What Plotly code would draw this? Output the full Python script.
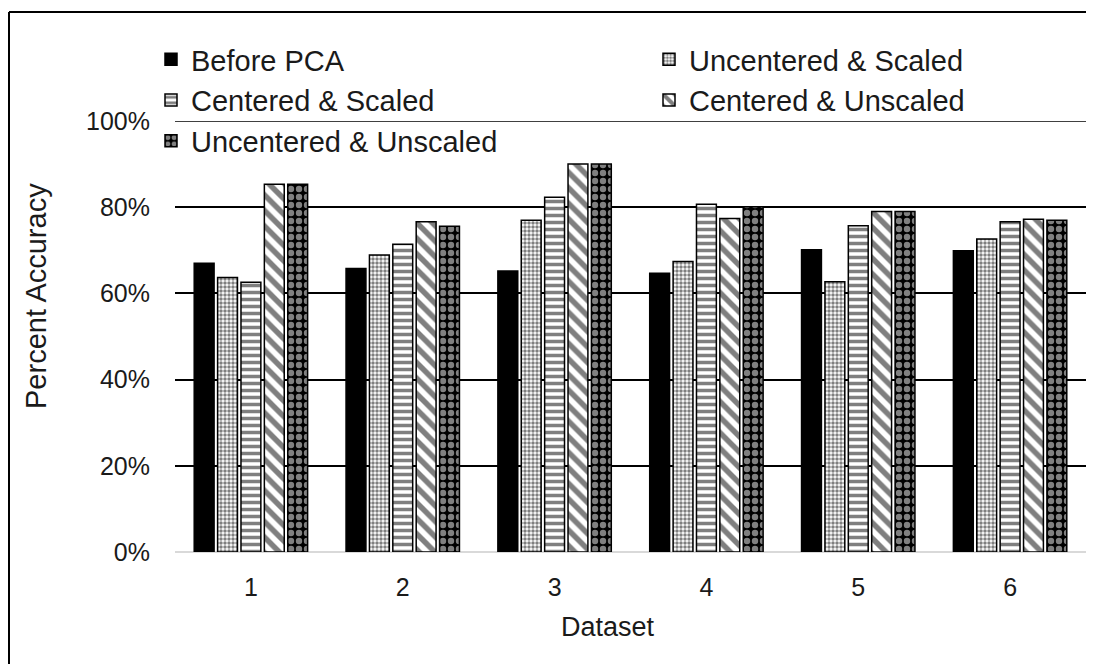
import plotly.graph_objects as go

datasets = ["1", "2", "3", "4", "5", "6"]

before_pca = [67.0, 65.8, 65.2, 64.7, 70.1, 69.9]
uncentered_scaled = [63.7, 68.9, 77.0, 67.4, 62.7, 72.6]
centered_scaled = [62.6, 71.4, 82.3, 80.7, 75.7, 76.6]
centered_unscaled = [85.3, 76.6, 90.0, 77.4, 79.0, 77.2]
uncentered_unscaled = [85.3, 75.6, 90.0, 80.1, 79.0, 77.0]

W, H = 1098, 666
FONT = "Liberation Sans, Arial, sans-serif"
TXT = "#1a1a1a"

series = [
    ("Before PCA", before_pca, dict(shape="", bgcolor="black", fgcolor="black"), "legend"),
    ("Uncentered & Scaled", uncentered_scaled,
     dict(shape=".", bgcolor="white", fgcolor="black", size=4, solidity=0.6), "legend2"),
    ("Centered & Scaled", centered_scaled,
     dict(shape="-", bgcolor="white", fgcolor="black", size=7, solidity=0.5), "legend"),
    ("Centered & Unscaled", centered_unscaled,
     dict(shape="\\", bgcolor="white", fgcolor="black", size=11, solidity=0.5), "legend2"),
    ("Uncentered & Unscaled", uncentered_unscaled,
     dict(shape=".", bgcolor="black", fgcolor="white", size=8, solidity=0.5), "legend"),
]

fig = go.Figure()
for name, vals, pat, leg in series:
    fig.add_trace(go.Bar(
        x=datasets, y=vals, name=name, legend=leg,
        marker=dict(color="black", pattern=pat, line=dict(color="black", width=1.5)),
    ))

# plot area in pixels
L, R, T, B = 175, 12, 121, 114
pw, ph = W - L - R, H - T - B

legend_style = dict(
    xref="container", yref="container", xanchor="left", yanchor="top",
    font=dict(size=29, family=FONT, color=TXT),
    bgcolor="rgba(0,0,0,0)", tracegroupgap=0,
)

# frame edges in paper coordinates
fx0 = (9 - L) / pw
fx1 = 1.0
fy_top = (H - 12 - B) / ph
fy_bot = -(B - 2) / ph

fig.update_layout(
    width=W, height=H,
    margin=dict(l=L, r=R, t=T, b=B, autoexpand=False),
    paper_bgcolor="white", plot_bgcolor="white",
    font=dict(family=FONT, color=TXT),
    barmode="group", bargap=0.23, bargroupgap=0.15,
    legend=dict(x=151 / W, y=1 - 34 / H, **legend_style),
    legend2=dict(x=649 / W, y=1 - 34 / H, **legend_style),
    xaxis=dict(
        tickfont=dict(size=25, family=FONT, color=TXT),
        showgrid=False, showline=False, ticks="", ticklabelstandoff=18,
    ),
    yaxis=dict(
        tickfont=dict(size=25, family=FONT, color=TXT),
        range=[0, 100], dtick=20, ticksuffix="%",
        showgrid=True, gridcolor="black", gridwidth=1.5,
        zeroline=True, zerolinecolor="#d9d9d9", zerolinewidth=2,
        showline=False, ticks="", ticklabelstandoff=24,
    ),
    annotations=[
        dict(text="Dataset", xref="paper", yref="paper",
             x=(608 - L) / pw, y=-(627 - (H - B)) / ph,
             xanchor="center", yanchor="middle", showarrow=False,
             font=dict(size=27, family=FONT, color=TXT)),
        dict(text="Percent Accuracy", xref="paper", yref="paper",
             x=(36 - L) / pw, y=((H - B) - 296) / ph, textangle=-90,
             xanchor="center", yanchor="middle", showarrow=False,
             font=dict(size=29, family=FONT, color=TXT)),
    ],
    shapes=[
        # top gridline at 100%
        dict(type="line", xref="paper", yref="y", x0=0, x1=1, y0=100, y1=100,
             line=dict(color="black", width=1.5), layer="below"),
        # outer frame: left and top edges
        dict(type="line", xref="paper", yref="paper",
             x0=fx0, x1=fx0, y0=fy_bot, y1=fy_top,
             line=dict(color="black", width=2)),
        dict(type="line", xref="paper", yref="paper",
             x0=fx0, x1=fx1, y0=fy_top, y1=fy_top,
             line=dict(color="black", width=2)),
    ],
)

fig.write_html("out.html", config={"displayModeBar": False})
